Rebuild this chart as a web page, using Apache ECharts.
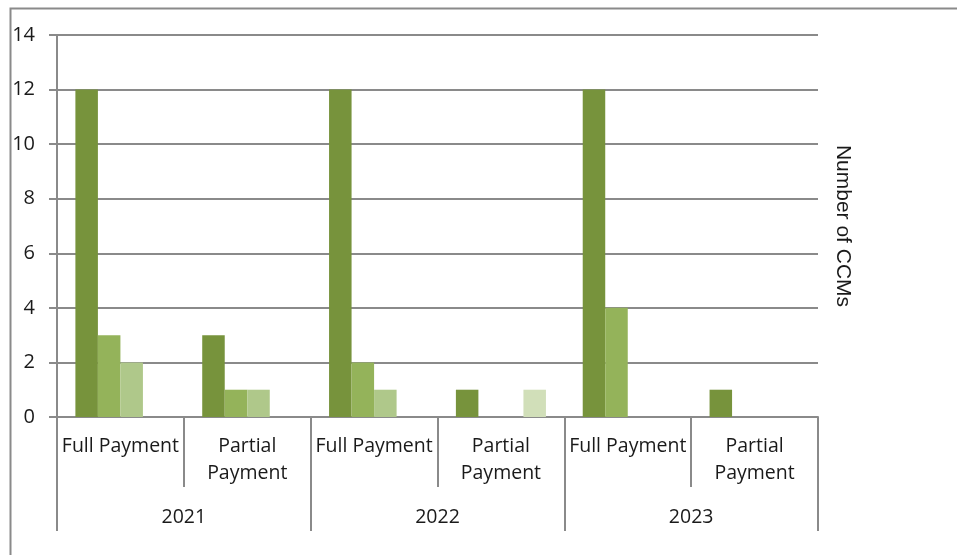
<!DOCTYPE html>
<html>
<head>
<meta charset="utf-8">
<script src="https://cdn.jsdelivr.net/npm/echarts@6/dist/echarts.min.js"></script>
<style>html,body{margin:0;padding:0;background:#fff;}#c{width:957px;height:555px;}</style>
</head>
<body>
<div id="c"></div>
<script>
const categories = ['Full Payment', 'Partial\nPayment', 'Full Payment', 'Partial\nPayment', 'Full Payment', 'Partial\nPayment'];
const years = ['2021', '2022', '2023'];
const series1 = [12, 3, 12, 1, 12, 1];
const series2 = [3, 1, 2, 0, 4, 0];
const series3 = [2, 1, 1, 0, 0, 0];
const series4 = [0, 0, 0, 1, 0, 0];
const yTicks = [0, 2, 4, 6, 8, 10, 12, 14];
const axisName = 'Number of CCMs';

const FONT = '"Open Sans", sans-serif';
const GRAY = '#8a8a8a';
const colors = ['#77933C', '#94B35A', '#AFC88A', '#D1DFB9'];
const seriesData = [series1, series2, series3, series4];

const chart = echarts.init(document.getElementById('c'), null, {renderer: 'canvas'});
chart.setOption({
  animation: false,
  grid: {left: 57, right: 139, top: 35, bottom: 138, containLabel: false},
  graphic: [{
    type: 'rect', left: 8, top: 6, silent: true,
    shape: {width: 1000, height: 600},
    style: {fill: 'none', stroke: GRAY, lineWidth: 2}
  }],
  xAxis: [{
    type: 'category', data: categories, position: 'bottom',
    axisLine: {show: true, lineStyle: {color: GRAY, width: 2}},
    axisTick: {show: true, length: 70, alignWithLabel: false, lineStyle: {color: GRAY, width: 2}},
    axisLabel: {interval: 0, margin: 16, color: '#1a1a1a', fontFamily: FONT, fontSize: 19.5, lineHeight: 27, verticalAlign: 'top'},
    splitLine: {show: false}
  }, {
    type: 'category', data: years, position: 'bottom', offset: 0,
    axisLine: {show: false},
    axisTick: {show: true, length: 114, alignWithLabel: false, lineStyle: {color: GRAY, width: 2}},
    axisLabel: {interval: 0, margin: 87, color: '#1a1a1a', fontFamily: FONT, fontSize: 19.5, lineHeight: 27, verticalAlign: 'top'},
    splitLine: {show: false}
  }],
  yAxis: [{
    type: 'value', min: yTicks[0], max: yTicks[yTicks.length - 1], interval: 2,
    axisLine: {show: true, lineStyle: {color: GRAY, width: 2}},
    axisTick: {show: true, length: 8, inside: false, lineStyle: {color: GRAY, width: 2}},
    axisLabel: {margin: 22, color: '#1a1a1a', fontFamily: FONT, fontSize: 20},
    splitLine: {show: true, lineStyle: {color: GRAY, width: 2}}
  }, {
    type: 'value', position: 'right', min: 0, max: 14, interval: 2,
    name: axisName, nameLocation: 'middle', nameRotate: -90, nameGap: 14,
    nameTextStyle: {color: '#1a1a1a', fontFamily: '"Liberation Sans", Arial, sans-serif', fontSize: 21},
    axisLine: {show: false}, axisTick: {show: false}, axisLabel: {show: false}, splitLine: {show: false}
  }],
  series: seriesData.map((d, i) => ({
    type: 'bar', name: 'Series ' + (i + 1), data: d, xAxisIndex: 0, yAxisIndex: 0,
    barGap: '0%', barCategoryGap: '29%',
    itemStyle: {color: colors[i]}
  }))
});
</script>
</body>
</html>
